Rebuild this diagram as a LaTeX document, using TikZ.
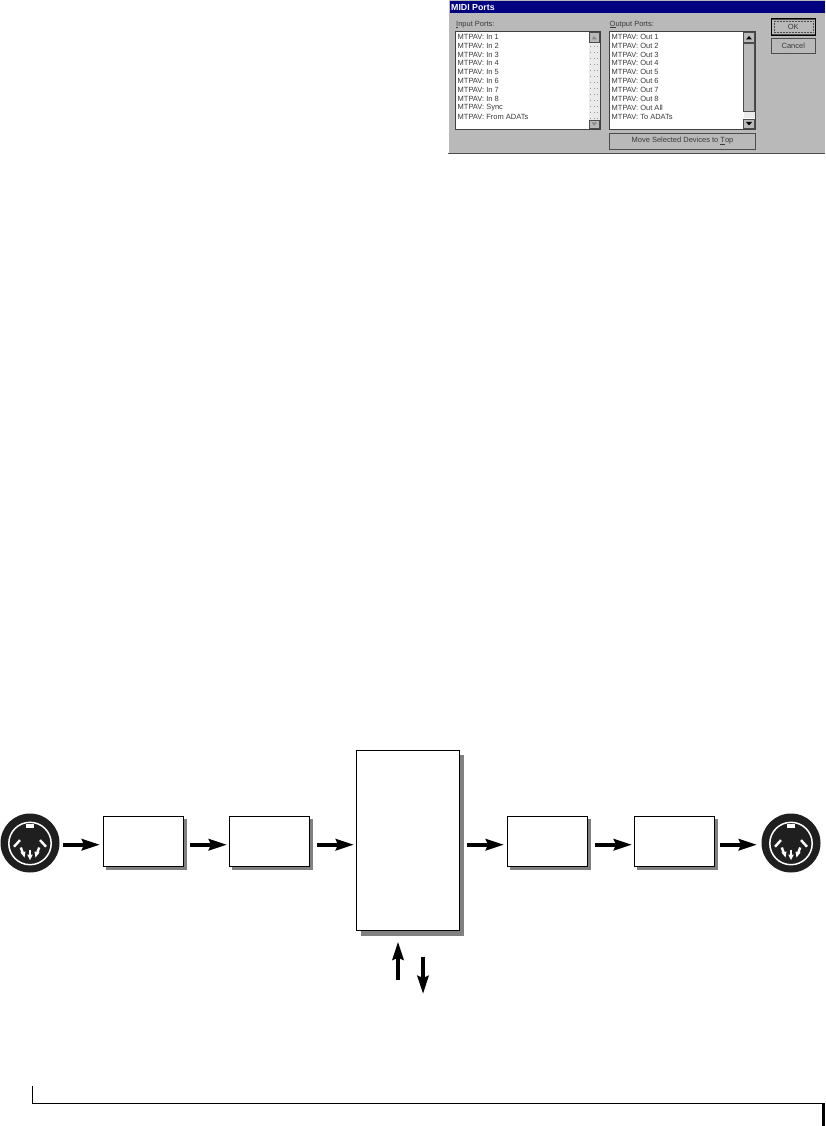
\documentclass[tikz,border=0pt]{standalone}
\usepackage{fontspec}
\setmainfont{Liberation Sans}
\usetikzlibrary{arrows.meta,shadows}
\definecolor{dlg}{HTML}{B9B9B9}
\definecolor{dlgtxt}{HTML}{3A3A3A}
\definecolor{shade}{HTML}{808080}
\definecolor{navy}{HTML}{000080}
\tikzset{
  box/.style={draw=black,fill=white,line width=0.8pt,inner sep=0pt,outer sep=0pt,minimum width=80.4pt,minimum height=50.4pt,
    drop shadow={shadow xshift=3pt,shadow yshift=-3pt,fill=shade,opacity=1}},
  bigbox/.style={draw=black,fill=white,line width=0.8pt,inner sep=0pt,outer sep=0pt,minimum width=103.4pt,minimum height=180.4pt,
    drop shadow={shadow xshift=4.4pt,shadow yshift=-5pt,fill=shade,opacity=1}},
  flow/.style={line width=4pt,-{Stealth[length=18pt,width=11pt,inset=2pt]}},
  din/.style={circle,fill=black!88,inner sep=0pt,outer sep=0pt,minimum size=59pt},
  pin/.style={white,line width=2.4pt},
  txt/.style={anchor=west,inner sep=0pt,text=dlgtxt,font=\fontsize{7.5}{8}\selectfont},
  ctxt/.style={inner sep=0pt,text=dlgtxt,font=\fontsize{7.5}{8}\selectfont},
  btn/.style={fill=dlg,draw=black!70,line width=0.6pt,inner sep=0pt,outer sep=0pt},
  well/.style={fill=white,draw=black!75,line width=0.8pt},
}
\newcommand{\dinpins}[2]{%
  \begin{scope}[shift={(#1,#2)}]
    \draw[white,line width=1.5pt] (0,0) circle (21.2);
    \fill[white] (-4,-19.8) rectangle (4,-15.5);
    \draw[pin] (-16,3.2) -- (-10,-3.4);
    \draw[pin] (16,3.2) -- (10,-3.4);
    \draw[pin] (-9.2,4) -- (-7,10);
    \draw[pin] (9.2,4) -- (7,10);
    \draw[pin] (0,6.5) -- (0,12);
    \fill[white] (-2.8,11) -- (2.8,11) -- (0,16.5) -- cycle;
    \fill[white] (-9.5,9) -- (-4.5,8) -- (-5.5,14) -- cycle;
    \fill[white] (9.5,9) -- (4.5,8) -- (5.5,14) -- cycle;
  \end{scope}}
\begin{document}
\begin{tikzpicture}[x=1pt,y=-1pt]
\useasboundingbox (0,0) rectangle (825,1126);
% dialog
\fill[dlg] (448,0) rectangle (825,154);
\draw[white,line width=1pt] (448.5,154) -- (448.5,0);
\draw[black!70,line width=1pt] (448,154) -- (825,154);
\fill[navy] (450,1.5) rectangle (825,13);
\node[anchor=west,inner sep=0pt,text=white,font=\fontsize{8.8}{9}\bfseries\selectfont] (title) at (451,7.7) {MIDI Ports};
\node[txt] (inlabel) at (456,24.5) {\underline{I}nput Ports:};
\node[txt] (outlabel) at (609.5,24.5) {\underline{O}utput Ports:};
\draw[well] (455.7,31) rectangle (600,129.3);
\draw[well] (609.3,31) rectangle (755.7,129.3);
% scrollbars
\fill[black!8] (588.5,32) rectangle (599.5,128.5);
\foreach \yy in {46,52,...,118}{\foreach \xx in {590,593.5,597}{\fill[black!40] (\xx,\yy) rectangle +(0.8,0.8);}}
\draw[btn] (589,32.5) rectangle (599.5,42.5);
\fill[black!45] (591.5,39.5) -- (597,39.5) -- (594.2,36) -- cycle;
\draw[btn] (589,120) rectangle (599.5,128);
\fill[black!45] (591.5,122.5) -- (597,122.5) -- (594.2,126) -- cycle;
\draw[btn] (743.5,32.5) rectangle (754.5,42.5);
\fill[black] (746,39.5) -- (752,39.5) -- (749,36) -- cycle;
\draw[btn] (743.5,43.5) rectangle (754.5,111.5);
\fill[black!8] (743.5,112) rectangle (754.5,118.5);
\draw[btn] (743.5,119.5) rectangle (754.5,128);
\fill[black] (746,122) -- (752,122) -- (749,125.5) -- cycle;
% list entries
\foreach \t [count=\i from 0] in {In 1,In 2,In 3,In 4,In 5,In 6,In 7,In 8,Sync,From ADATs}{
  \node[txt] (in\i) at (457.5,36.7+8.9*\i) {MTPAV: \t};}
\foreach \t [count=\i from 0] in {Out 1,Out 2,Out 3,Out 4,Out 5,Out 6,Out 7,Out 8,Out All,To ADATs}{
  \node[txt] (out\i) at (611.5,36.7+8.9*\i) {MTPAV: \t};}
% buttons
\draw[btn] (771.7,19.3) rectangle (815,34.3);
\draw[black,line width=0.9pt] (771,18.6) rectangle (815.7,35);
\draw[black!70,densely dotted,line width=0.5pt] (774,21.5) rectangle (812.8,32.2);
\node[ctxt] (ok) at (793.3,27) {OK};
\draw[btn] (771.7,38.3) rectangle (815,53.3);
\node[ctxt] (cancel) at (793.3,45.8) {Cancel};
\draw[btn] (609.3,133) rectangle (755.7,149);
\node[ctxt] (move) at (682.5,141.2) {Move Selected Devices to \underline{T}op};
% signal chain
\node[din] (dinL) at (30,843) {};
\node[din] (dinR) at (791,843) {};
\dinpins{30}{843.5}
\dinpins{791}{843.5}
\node[box] (b1) at (143.5,841.5) {};
\node[box] (b2) at (269.5,841.5) {};
\node[bigbox] (big) at (408,840.5) {};
\node[box] (b4) at (547.5,841.5) {};
\node[box] (b5) at (674.5,841.5) {};
\draw[flow,shorten <=3.5pt,shorten >=3.3pt] ([yshift=-1.7pt]dinL.east) -- ([yshift=-3.2pt]b1.west);
\draw[flow,shorten <=6.3pt,shorten >=2.3pt] ([yshift=-3.2pt]b1.east) -- ([yshift=-3.2pt]b2.west);
\draw[flow,shorten <=7.3pt,shorten >=2.3pt] ([yshift=-3.2pt]b2.east) -- ([yshift=-4.2pt]big.west);
\draw[flow,shorten <=7.3pt,shorten >=3.3pt] ([yshift=-4.2pt]big.east) -- ([yshift=-3.2pt]b4.west);
\draw[flow,shorten <=7.3pt,shorten >=2.3pt] ([yshift=-3.2pt]b4.east) -- ([yshift=-3.2pt]b5.west);
\draw[flow,shorten <=5.3pt,shorten >=4.5pt] ([yshift=-3.2pt]b5.east) -- ([yshift=-1.7pt]dinR.west);
\coordinate (upfoot) at (398,980);
\coordinate (downtip) at (423,994);
\draw[flow,shorten >=11pt] (upfoot) -- (big.south -| upfoot);
\draw[flow,shorten <=26pt] (big.south -| downtip) -- (downtip);
% footer rule
\coordinate (ruleL) at (32,1103);
\coordinate (ruleR) at (823,1103);
\coordinate (ruleTop) at (32,1086);
\coordinate (ruleEnd) at (823,1126);
\draw[black,line width=0.8pt] (ruleTop) -- (ruleL);
\draw[black,line width=1pt] (ruleL) -- (ruleR);
\draw[black,line width=3pt] (ruleR) -- (ruleEnd);
\end{tikzpicture}
\end{document}
